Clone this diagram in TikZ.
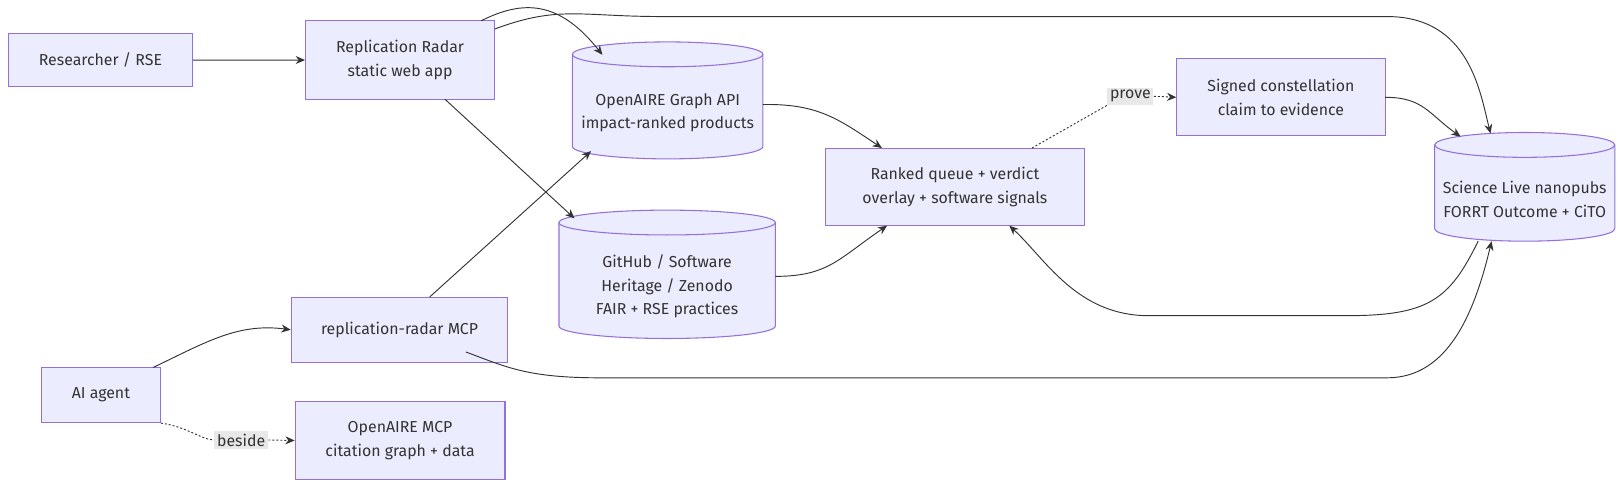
\documentclass[tikz,border=0pt]{standalone}
\usepackage{fontspec}
\setmainfont{Fira Sans}
\usetikzlibrary{arrows.meta}
\definecolor{nfill}{HTML}{ECECFF}
\definecolor{nline}{HTML}{9370DB}
\definecolor{eline}{HTML}{333333}
\definecolor{lbg}{HTML}{E8E8E8}
\tikzset{
 box/.style={draw=nline,fill=nfill,line width=0.8pt,align=center,font=\fontsize{11.5}{17}\selectfont,text=eline},
 txt/.style={align=center,font=\fontsize{11.5}{17}\selectfont,text=eline},
 cyl/.style={draw=nline,fill=nfill,line width=0.8pt},
 edge/.style={draw=eline,line width=0.7pt,-{Stealth[length=7pt,width=6pt]}},
 dedge/.style={edge,dash pattern=on 1.5pt off 1.5pt},
 lab/.style={fill=lbg,font=\fontsize{11.5}{14}\selectfont,text=eline,inner sep=2pt}
}
% \mycyl{name}{cx}{cy}{w}{h}{text}
\newcommand\mycyl[6]{%
 \path[cyl] ({#2-#4/2},{#3-#5/2+12}) -- ({#2-#4/2},{#3+#5/2-12})
   arc[start angle=180,end angle=360,x radius={0.375*#4*1pt},y radius=9pt]
   -- ({#2+#4/2},{#3-#5/2+12})
   arc[start angle=0,end angle=180,x radius={0.375*#4*1pt},y radius=9pt] -- cycle;
 \draw[draw=nline,line width=0.8pt] ({#2-#4/2},{#3-#5/2+12})
   arc[start angle=180,end angle=360,x radius={0.375*#4*1pt},y radius=9pt];
 \node[txt,minimum width={#4*0.75pt},minimum height={#5*0.75pt}] (#1) at (#2,{#3+12}) {#6};
}
\begin{document}
\begin{tikzpicture}[x=0.75pt,y=-0.75pt,scale=1.0351,transform shape]
\node[box,minimum width=133.5pt,minimum height=38pt] (res) at (97,58) {Researcher / RSE};
\node[box,minimum width=137pt,minimum height=57pt] (radar) at (386.5,58) {Replication Radar\\static web app};
\mycyl{graph}{645}{97}{184}{113}{OpenAIRE Graph API\\impact-ranked products}
\mycyl{gh}{644.5}{265}{209}{124}{GitHub / Software\\Heritage / Zenodo\\FAIR + RSE practices}
\node[box,minimum width=188pt,minimum height=56pt] (queue) at (922.5,180.5) {Ranked queue + verdict\\overlay + software signals};
\node[box,minimum width=151pt,minimum height=56pt] (signed) at (1237.5,94) {Signed constellation\\claim to evidence};
\mycyl{sl}{1473}{180.5}{174}{105}{Science Live nanopubs\\FORRT Outcome + CiTO}
\node[box,minimum width=157pt,minimum height=47pt] (mcp) at (386,318.5) {replication-radar MCP};
\node[box,minimum width=86pt,minimum height=40pt] (ai) at (97.5,381.5) {AI agent};
\node[box,minimum width=152pt,minimum height=56pt] (omcp) at (386.5,425.5) {OpenAIRE MCP\\citation graph + data};

\draw[edge] (res) -- (radar);
\draw[edge] (465,20) .. controls (505,0) and (540,0) .. (582,53);
\draw[edge] (430,96) -- (555,211);
\draw[edge] (478,28) .. controls (540,5) and (560,16) .. (640,16) -- (1340,16) .. controls (1420,16) and (1430,90) .. (1440,129);
\draw[edge] (737,101) .. controls (790,100) and (810,115) .. (852,143);
\draw[edge] (749,267) .. controls (800,267) and (810,250) .. (857,218);
\node[lab] (pl) at (1092,93) {prove};
\draw[dedge,-] (997,143) -- (pl.south west);
\draw[dedge] (pl.east) -- (signed.west);
\draw[edge] (1338,94) .. controls (1375,94) and (1380,110) .. (1411,132);
\draw[edge] (1428,233) .. controls (1400,290) and (1380,305) .. (1300,305) -- (1110,305) .. controls (1040,305) and (1010,250) .. (975,218);
\draw[edge] (415,287) -- (571,146);
\draw[edge] (450,340) .. controls (490,355) and (510,365) .. (580,365) -- (1340,365) .. controls (1400,365) and (1425,300) .. (1441,233);
\draw[edge] (148,355) .. controls (200,330) and (230,312) .. (mcp.west);
\node[lab] (bl) at (233,425) {beside};
\draw[dedge,-] (ai.south east) .. controls (180,412) and (195,425) .. (bl.west);
\draw[dedge] (bl.east) -- (omcp.west);
\pgfresetboundingbox
\useasboundingbox (0,0) rectangle (1566,470.5);
\end{tikzpicture}
\end{document}
